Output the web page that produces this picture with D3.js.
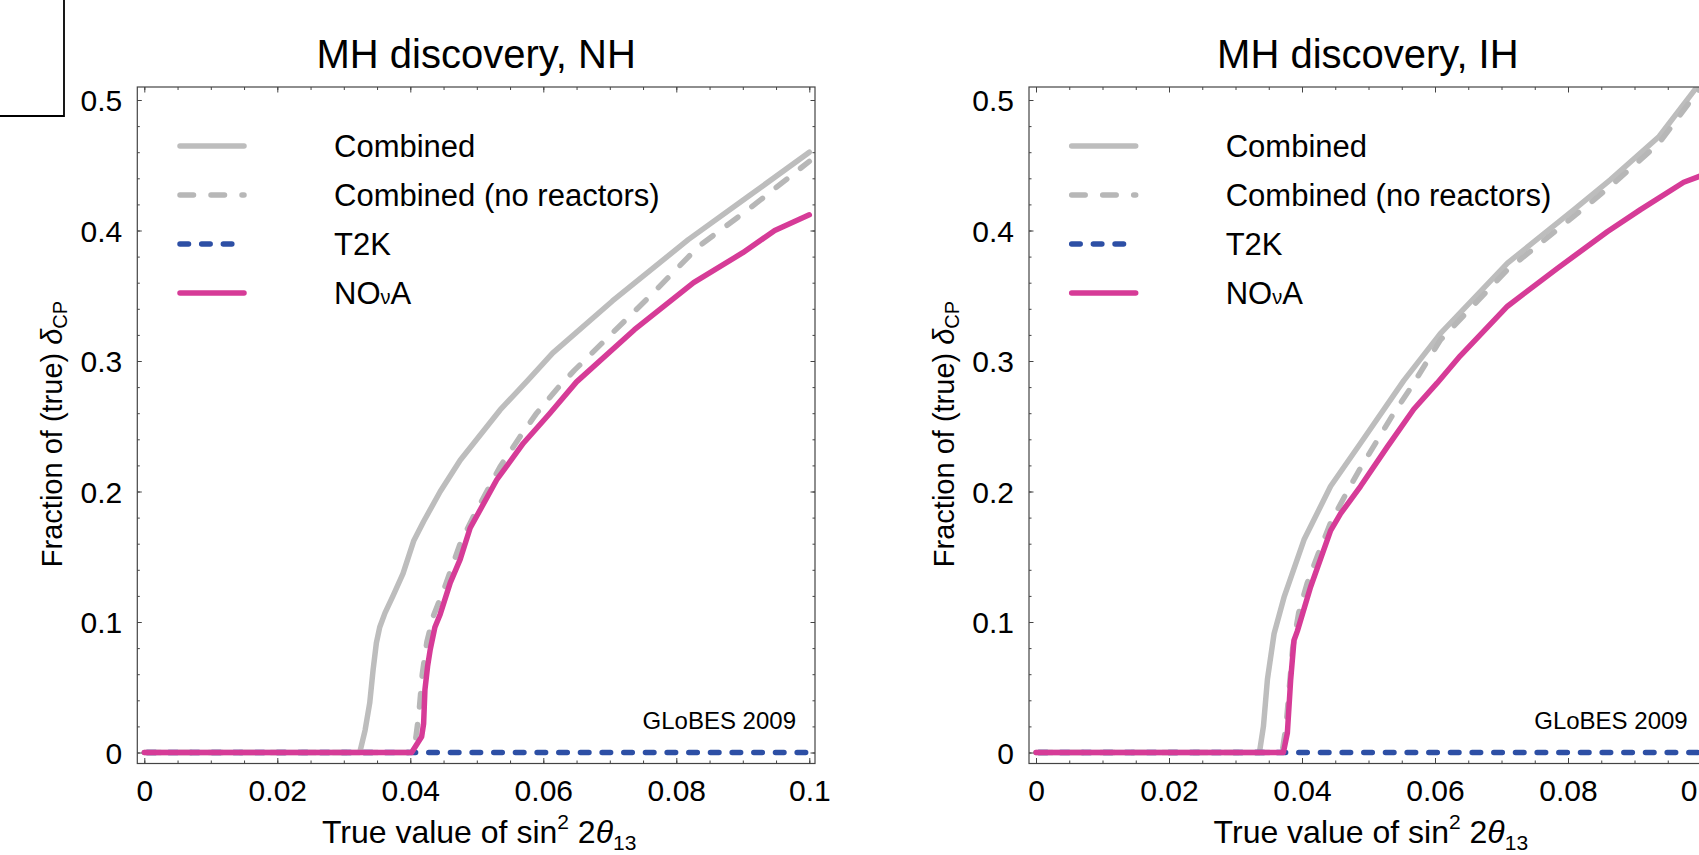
<!DOCTYPE html>
<html>
<head>
<meta charset="utf-8">
<script src="https://cdn.jsdelivr.net/npm/d3@7"></script>
<style>
  html, body { margin: 0; padding: 0; background: #fff; }
  svg { display: block; font-family: "Liberation Sans", Arial, Helvetica, sans-serif; }
</style>
</head>
<body>
<div id="chart"></div>
<script>
// ---- data ----
const xTicks = [0, 0.02, 0.04, 0.06, 0.08, 0.1];
const xTickLabels = ["0", "0.02", "0.04", "0.06", "0.08", "0.1"];
const yTicks = [0, 0.1, 0.2, 0.3, 0.4, 0.5];
const yTickLabels = ["0", "0.1", "0.2", "0.3", "0.4", "0.5"];
const seriesNames = ["Combined", "Combined (no reactors)", "T2K", "NOνA"];
const panelTitles = ["MH discovery, NH", "MH discovery, IH"];

// normal hierarchy
const nhCombined = [[0, 0], [0.0324, 0], [0.0332, 0.017], [0.0339, 0.038], [0.0344, 0.063], [0.0349, 0.084],
  [0.0354, 0.096], [0.0362, 0.107], [0.0374, 0.12], [0.0389, 0.137], [0.0405, 0.162], [0.042, 0.177],
  [0.0445, 0.2], [0.0475, 0.224], [0.0535, 0.2625], [0.0577, 0.2854], [0.0614, 0.306], [0.0704, 0.346],
  [0.0818, 0.393], [0.0908, 0.426], [0.1, 0.46]];
const nhNoReactors = [[0, 0], [0.04, 0], [0.0408, 0.01], [0.0413, 0.03], [0.0418, 0.06], [0.0425, 0.085],
  [0.0435, 0.105], [0.0452, 0.127], [0.0475, 0.16], [0.0495, 0.181], [0.0535, 0.219], [0.0565, 0.242],
  [0.059, 0.26], [0.0623, 0.28], [0.0647, 0.293], [0.0761, 0.35], [0.0834, 0.388], [0.0908, 0.416], [0.1, 0.453]];
const nhT2K = [[0, 0], [0.1, 0]];
const nhNova = [[0, 0], [0.0402, 0], [0.0417, 0.012], [0.042, 0.022], [0.0422, 0.048], [0.0426, 0.066],
  [0.043, 0.079], [0.0437, 0.096], [0.0445, 0.106], [0.046, 0.13], [0.0475, 0.148], [0.049, 0.172],
  [0.053, 0.209], [0.057, 0.237], [0.061, 0.26], [0.065, 0.284], [0.0737, 0.324], [0.0826, 0.36],
  [0.09, 0.383], [0.0948, 0.4], [0.1, 0.412]];

// inverted hierarchy
const ihCombined = [[0, 0], [0.0336, 0], [0.0342, 0.02], [0.0348, 0.056], [0.0358, 0.091], [0.0373, 0.119],
  [0.0403, 0.163], [0.0443, 0.204], [0.0488, 0.237], [0.0553, 0.285], [0.0608, 0.321], [0.0709, 0.375],
  [0.0809, 0.416], [0.0864, 0.439], [0.0937, 0.472], [0.0994, 0.51], [0.1, 0.514]];
const ihNoReactors = [[0, 0], [0.037, 0], [0.0376, 0.02], [0.0381, 0.05], [0.0386, 0.08], [0.0395, 0.107],
  [0.0408, 0.13], [0.0425, 0.153], [0.0443, 0.176], [0.0468, 0.2], [0.0488, 0.218], [0.0513, 0.239],
  [0.0538, 0.26], [0.0563, 0.279], [0.0608, 0.316], [0.0709, 0.37], [0.0809, 0.411], [0.0864, 0.434],
  [0.0937, 0.467], [0.0994, 0.506], [0.1, 0.51]];
const ihT2K = [[0, 0], [0.1, 0]];
const ihNova = [[0, 0], [0.0372, 0], [0.0378, 0.015], [0.0383, 0.056], [0.0388, 0.086], [0.0393, 0.093],
  [0.0413, 0.127], [0.0443, 0.17], [0.0458, 0.183], [0.0488, 0.204], [0.0528, 0.234], [0.0568, 0.263],
  [0.0603, 0.283], [0.0638, 0.304], [0.0709, 0.342], [0.0784, 0.371], [0.0859, 0.399], [0.0909, 0.416],
  [0.0974, 0.437], [0.1, 0.442]];

const panelSeries = [
  [nhCombined, nhNoReactors, nhT2K, nhNova],
  [ihCombined, ihNoReactors, ihT2K, ihNova]
];

// ---- styles / layout ----
const styles = [
  { color: "#bdbdbd", dash: null },
  { color: "#b7b7b7", dash: "13.5,17.5" },
  { color: "#2d4fa5", dash: "8.5,13.17" },
  { color: "#d63b97", dash: null }
];
const W = 1699, H = 855;
const lineW = 5.5;
const frameTop = 87, frameBottom = 763.5, frameW = 677.7;
const panelLeft = [137.3, 1029];

const svg = d3.create("svg")
  .attr("width", W)
  .attr("height", H)
  .attr("viewBox", `0 0 ${W} ${H}`);

// stray box in the top-left corner
svg.append("path")
  .attr("d", "M64,0V116H0")
  .attr("fill", "none")
  .attr("stroke", "#000")
  .attr("stroke-width", 1.8);

panelSeries.forEach((series, p) => {
  const fl = panelLeft[p], fr = fl + frameW;
  const x = d3.scaleLinear().domain([0, 0.1]).range([fl + 7, fl + 672]);
  const y = d3.scaleLinear().domain([0, 0.5]).range([752.5, 100]);
  const g = svg.append("g");

  // title
  g.append("text")
    .attr("x", (fl + fr) / 2)
    .attr("y", 68)
    .attr("text-anchor", "middle")
    .attr("font-size", "40px")
    .text(panelTitles[p]);

  // clip to the frame
  const clipId = `clip-${p}`;
  svg.append("clipPath").attr("id", clipId)
    .append("rect")
    .attr("x", fl).attr("y", frameTop)
    .attr("width", frameW).attr("height", frameBottom - frameTop);

  const line = d3.line().x(d => x(d[0])).y(d => y(d[1]));

  const curves = g.append("g").attr("clip-path", `url(#${clipId})`);
  series.forEach((s, i) => {
    curves.append("path")
      .datum(s)
      .attr("d", line)
      .attr("fill", "none")
      .attr("stroke", styles[i].color)
      .attr("stroke-width", lineW)
      .attr("stroke-linecap", "round")
      .attr("stroke-linejoin", "round")
      .attr("stroke-dasharray", styles[i].dash)
      .attr("stroke-dashoffset", styles[i].dash ? -2.75 : null);
  });

  // frame
  g.append("rect")
    .attr("x", fl).attr("y", frameTop)
    .attr("width", frameW).attr("height", frameBottom - frameTop)
    .attr("fill", "none")
    .attr("stroke", "#444")
    .attr("stroke-width", 1.2);

  const xMinor = d3.range(0, 0.1001, 0.005);
  const yMinor = d3.range(0, 0.5001, 0.02);
  const styleAxis = sel => {
    sel.select(".domain").remove();
    sel.selectAll("line").attr("stroke", "#444").attr("stroke-width", 1);
  };

  // ticks on all four sides, pointing inward
  g.append("g").attr("transform", `translate(0,${frameBottom})`)
    .call(d3.axisBottom(x).tickValues(xMinor).tickSize(-3).tickFormat(""))
    .call(styleAxis);
  g.append("g").attr("transform", `translate(0,${frameTop})`)
    .call(d3.axisTop(x).tickValues(xMinor).tickSize(-3).tickFormat(""))
    .call(styleAxis);
  g.append("g").attr("transform", `translate(${fl},0)`)
    .call(d3.axisLeft(y).tickValues(yMinor).tickSize(-2.5).tickFormat(""))
    .call(styleAxis);
  g.append("g").attr("transform", `translate(${fr},0)`)
    .call(d3.axisRight(y).tickValues(yMinor).tickSize(-2.5).tickFormat(""))
    .call(styleAxis);

  g.append("g").attr("transform", `translate(0,${frameBottom})`)
    .call(d3.axisBottom(x).tickValues(xTicks).tickSize(-5.5).tickFormat((d, i) => xTickLabels[i]))
    .call(styleAxis)
    .call(a => a.selectAll("text")
      .attr("y", 37).attr("dy", null)
      .attr("fill", "#000")
      .attr("font-size", "30px")
      .attr("font-family", null));
  g.append("g").attr("transform", `translate(0,${frameTop})`)
    .call(d3.axisTop(x).tickValues(xTicks).tickSize(-5.5).tickFormat(""))
    .call(styleAxis);
  g.append("g").attr("transform", `translate(${fl},0)`)
    .call(d3.axisLeft(y).tickValues(yTicks).tickSize(-4.5).tickFormat((d, i) => yTickLabels[i]))
    .call(styleAxis)
    .call(a => a.selectAll("text")
      .attr("x", -15).attr("dy", "0.36em")
      .attr("fill", "#000")
      .attr("font-size", "30px")
      .attr("font-family", null));
  g.append("g").attr("transform", `translate(${fr},0)`)
    .call(d3.axisRight(y).tickValues(yTicks).tickSize(-4.5).tickFormat(""))
    .call(styleAxis);

  // axis titles
  const xt = g.append("text")
    .attr("x", (fl + fr) / 2 + 3)
    .attr("y", 843)
    .attr("text-anchor", "middle")
    .attr("font-size", "32px");
  xt.append("tspan").text("True value of sin");
  xt.append("tspan").attr("font-size", "21px").attr("dy", -14).text("2");
  xt.append("tspan").attr("dy", 14).text(" 2");
  xt.append("tspan").attr("font-style", "italic").text("θ");
  xt.append("tspan").attr("font-size", "21px").attr("dy", 7).text("13");

  const yt = g.append("text")
    .attr("transform", `translate(${fl - 75.3},434) rotate(-90)`)
    .attr("text-anchor", "middle")
    .attr("font-size", "29px");
  yt.append("tspan").text("Fraction of (true) ");
  yt.append("tspan").attr("font-style", "italic").text("δ");
  yt.append("tspan").attr("font-size", "20px").attr("dy", 5).text("CP");

  // legend
  series.forEach((s, i) => {
    const ly = 146 + i * 49;
    g.append("line")
      .attr("x1", fl + 42.7)
      .attr("x2", i === 2 ? fl + 95 : fl + 106.7)
      .attr("y1", ly).attr("y2", ly)
      .attr("stroke", styles[i].color)
      .attr("stroke-width", lineW)
      .attr("stroke-linecap", "round")
      .attr("stroke-dasharray", styles[i].dash);
    const t = g.append("text")
      .attr("x", fl + 196.7)
      .attr("y", ly + 10.5)
      .attr("font-size", "31px");
    if (i === 3) {
      t.append("tspan").text("NO");
      t.append("tspan").attr("font-size", "20px").text("ν");
      t.append("tspan").text("A");
    } else {
      t.text(seriesNames[i]);
    }
  });

  g.append("text")
    .attr("x", fr - 19)
    .attr("y", 729.3)
    .attr("text-anchor", "end")
    .attr("font-size", "24px")
    .text("GLoBES 2009");
});

d3.select("#chart").node().appendChild(svg.node());
</script>
</body>
</html>
